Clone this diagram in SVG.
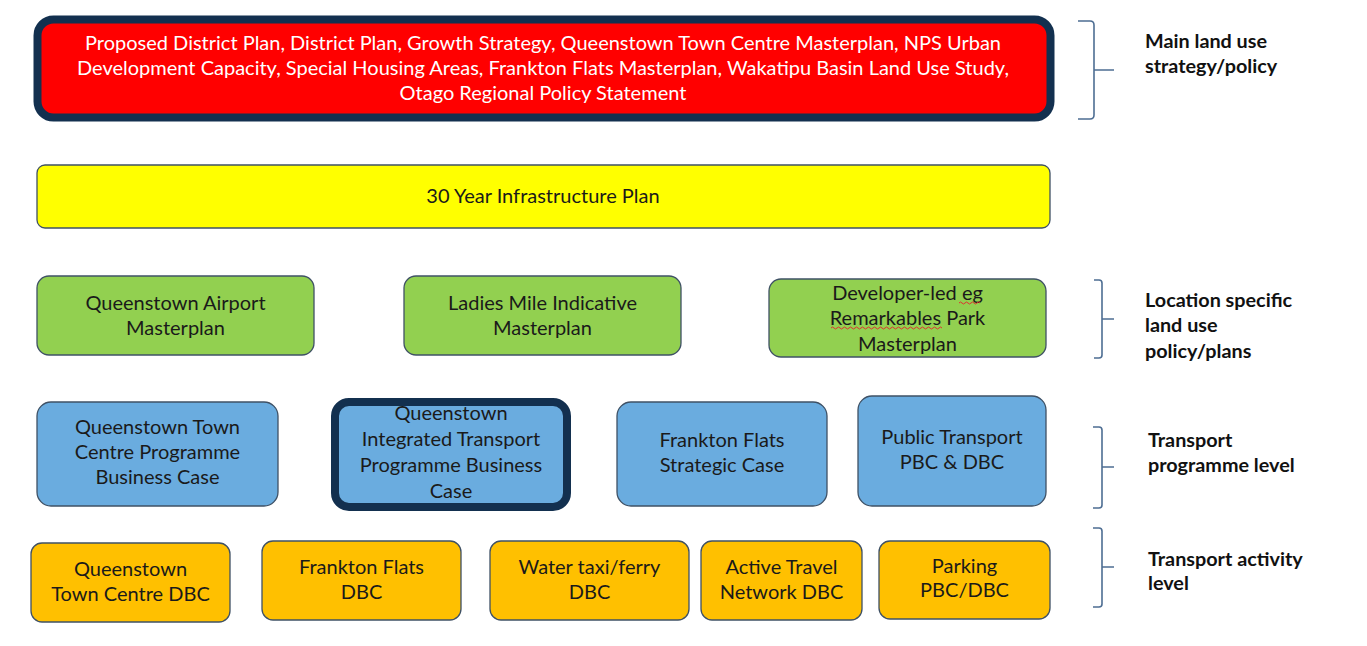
<svg xmlns="http://www.w3.org/2000/svg" width="1367" height="646" viewBox="0 0 1367 646">
<style>
  text { font-family: Lato, "Open Sans", "Liberation Sans", sans-serif; font-size: 20px; fill: #1a1a1a; text-anchor: middle; }
  .w { fill: #ffffff; }
  .lbl { font-weight: bold; font-size: 19.8px; text-anchor: start; fill: #111; }
  .box { stroke: #3f5165; stroke-width: 1.3; }
  .thick { stroke: #13304f; stroke-width: 8; }
  .red { fill: #ff0000; }
  .yel { fill: #ffff00; }
  .grn { fill: #92d050; }
  .blu { fill: #6aacdf; }
  .org { fill: #ffc000; }
  .brace { fill: none; stroke: #4e6e93; stroke-width: 1.6; }
  .squig { fill: none; stroke: #e03030; stroke-width: 1; }
</style>
<rect width="1367" height="646" fill="#ffffff"/>

<g id="main-policy">
  <rect x="37.5" y="19.5" width="1013" height="98" rx="16" class="red thick"/>
  <text class="w" x="543" y="50">Proposed District Plan, District Plan, Growth Strategy, Queenstown Town Centre Masterplan, NPS Urban</text>
  <text class="w" x="543" y="75">Development Capacity, Special Housing Areas, Frankton Flats Masterplan, Wakatipu Basin Land Use Study,</text>
  <text class="w" x="543" y="100">Otago Regional Policy Statement</text>
</g>

<g id="infra-plan">
  <rect x="37" y="165" width="1013" height="63" rx="8" class="yel box"/>
  <text x="543" y="203">30 Year Infrastructure Plan</text>
</g>

<g id="airport-masterplan">
  <rect x="37" y="276" width="277" height="79" rx="12" class="grn box"/>
  <text x="175.5" y="310">Queenstown Airport</text>
  <text x="175.5" y="335">Masterplan</text>
</g>
<g id="ladies-mile">
  <rect x="404" y="276" width="277" height="79" rx="12" class="grn box"/>
  <text x="542.5" y="310">Ladies Mile Indicative</text>
  <text x="542.5" y="335">Masterplan</text>
</g>
<g id="developer-led">
  <rect x="769" y="279" width="277" height="78" rx="12" class="grn box"/>
  <text x="907.5" y="300">Developer-led eg</text>
  <text x="907.5" y="325">Remarkables Park</text>
  <text x="907.5" y="351">Masterplan</text>
  <path class="squig" d="M959 303 q1.5 -2 3 0 t3 0 t3 0 t3 0 t3 0 t3 0 t3 0"/>
  <path class="squig" d="M831 328 q1.5 -2 3 0 t3 0 t3 0 t3 0 t3 0 t3 0 t3 0 t3 0 t3 0 t3 0 t3 0 t3 0 t3 0 t3 0 t3 0 t3 0 t3 0 t3 0 t3 0 t3 0 t3 0 t3 0 t3 0 t3 0 t3 0 t3 0 t3 0 t3 0 t3 0 t3 0 t3 0 t3 0 t3 0 t3 0 t3 0 t3 0 t3 0"/>
</g>

<g id="qtc-pbc">
  <rect x="37" y="402" width="241" height="104" rx="14" class="blu box"/>
  <text x="157.5" y="434">Queenstown Town</text>
  <text x="157.5" y="459">Centre Programme</text>
  <text x="157.5" y="484">Business Case</text>
</g>
<g id="qitp-bc">
  <rect x="335" y="402" width="232" height="105" rx="14" class="blu thick"/>
  <text x="451" y="420">Queenstown</text>
  <text x="451" y="446">Integrated Transport</text>
  <text x="451" y="472">Programme Business</text>
  <text x="451" y="498">Case</text>
</g>
<g id="frankton-sc">
  <rect x="617" y="402" width="210" height="104" rx="14" class="blu box"/>
  <text x="722" y="447">Frankton Flats</text>
  <text x="722" y="472">Strategic Case</text>
</g>
<g id="public-transport">
  <rect x="858" y="396" width="188" height="110" rx="14" class="blu box"/>
  <text x="952" y="444">Public Transport</text>
  <text x="952" y="469">PBC &amp; DBC</text>
</g>

<g id="qtc-dbc">
  <rect x="31" y="543" width="199" height="79" rx="11" class="org box"/>
  <text x="130.5" y="576">Queenstown</text>
  <text x="130.5" y="601">Town Centre DBC</text>
</g>
<g id="frankton-dbc">
  <rect x="262" y="541" width="199" height="79" rx="11" class="org box"/>
  <text x="361.5" y="574">Frankton Flats</text>
  <text x="361.5" y="599">DBC</text>
</g>
<g id="water-taxi">
  <rect x="490" y="541" width="199" height="79" rx="11" class="org box"/>
  <text x="589.5" y="574">Water taxi/ferry</text>
  <text x="589.5" y="599">DBC</text>
</g>
<g id="active-travel">
  <rect x="701" y="541" width="161" height="79" rx="11" class="org box"/>
  <text x="781.5" y="574">Active Travel</text>
  <text x="781.5" y="599">Network DBC</text>
</g>
<g id="parking">
  <rect x="879" y="541" width="171" height="78" rx="11" class="org box"/>
  <text x="964.5" y="573">Parking</text>
  <text x="964.5" y="597">PBC/DBC</text>
</g>

<g id="connectors">
  <path class="brace" d="M1078 21 L1090 21 Q1094 21 1094 25 L1094 115 Q1094 119 1090 119 L1078 119 M1094 70 L1114 70"/>
  <path class="brace" d="M1094 280 L1099 280 Q1102 280 1102 283 L1102 355 Q1102 358 1099 358 L1094 358 M1102 319 L1114 319"/>
  <path class="brace" d="M1093 427 L1099 427 Q1102 427 1102 430 L1102 505 Q1102 508 1099 508 L1093 508 M1102 467 L1114 467"/>
  <path class="brace" d="M1093 528 L1099 528 Q1102 528 1102 531 L1102 604 Q1102 607 1099 607 L1093 607 M1102 567 L1114 567"/>
</g>

<g id="labels">
  <text class="lbl" x="1145" y="48">Main land use</text>
  <text class="lbl" x="1145" y="73">strategy/policy</text>
  <text class="lbl" x="1145" y="307">Location specific</text>
  <text class="lbl" x="1145" y="332">land use</text>
  <text class="lbl" x="1145" y="358">policy/plans</text>
  <text class="lbl" x="1148" y="447">Transport</text>
  <text class="lbl" x="1148" y="472">programme level</text>
  <text class="lbl" x="1148" y="566">Transport activity</text>
  <text class="lbl" x="1148" y="590">level</text>
</g>
</svg>
